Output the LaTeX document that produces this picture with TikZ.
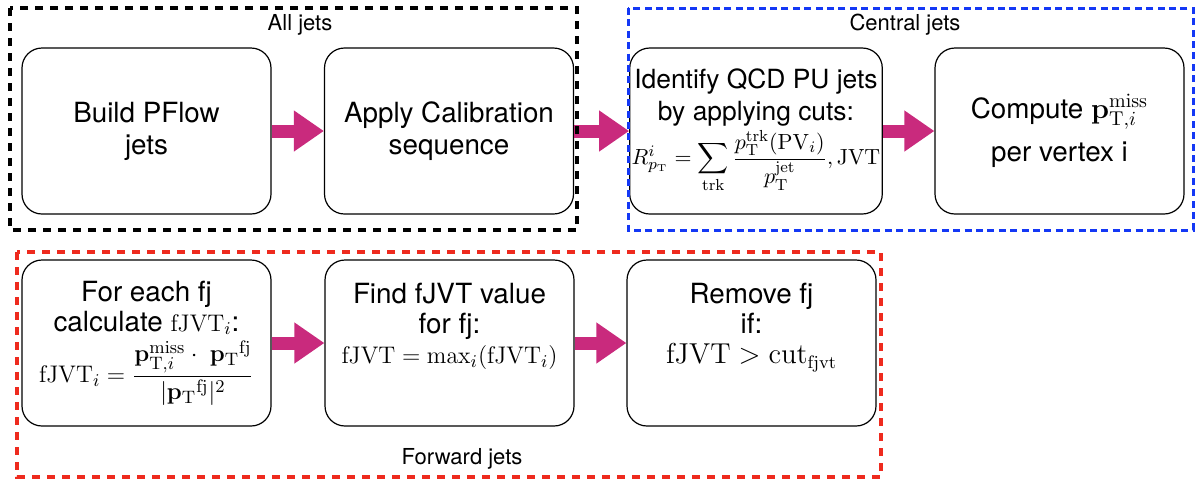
\documentclass[tikz,border=0pt]{standalone}
\usepackage{amsmath}
\usepackage{amssymb}
\usepackage[no-math]{fontspec}
\setmainfont{TeX Gyre Heros}
\usepackage{tikz}
\usetikzlibrary{arrows.meta}
\definecolor{flowpink}{HTML}{C92A7D}
\definecolor{centralblue}{HTML}{1438F5}
\definecolor{forwardred}{HTML}{EE2A1E}

\tikzset{
  stepbox/.style={draw,rounded corners=10pt,line width=0.6pt,minimum width=124.5pt,minimum height=83pt,align=center,inner sep=1pt},
  flowarrow/.style={flowpink,line width=6.5pt,-{Triangle[length=15pt,width=19.5pt]}},
  groupframe/.style={line width=1.8pt,dash pattern=on 4pt off 3.5pt},
  grouplabel/.style={font=\fontsize{11}{13}\selectfont}
}

\begin{document}
\begin{tikzpicture}[x=0.5pt,y=-0.5pt,every node/.style={font=\fontsize{13.9}{15}\selectfont}]
  \useasboundingbox (0,0) rectangle (1198,479);

  \node[stepbox] (build) at (146.5,131) {Build PFlow\\[1pt]jets};
  \node[stepbox] (calib) at (449,131) {Apply Calibration\\[1pt]sequence};
  \node[stepbox,font=\fontsize{13.2}{16}\selectfont] (pujets) at (756,131)
    {Identify QCD PU jets\\by applying cuts:\\[1pt]
     {\fontsize{10.8}{13}\selectfont$R^{i}_{p_{\mathrm{T}}}=\displaystyle\sum_{\mathrm{trk}}\frac{p_{\mathrm{T}}^{\mathrm{trk}}(\mathrm{PV}_i)}{p_{\mathrm{T}}^{\mathrm{jet}}},\mathrm{JVT}$}};
  \node[stepbox] (metvtx) at (1059.5,131)
    {Compute $\mathbf{p}_{\mathrm{T},i}^{\mathrm{miss}}$\\[5pt]per vertex i};

  \node[stepbox] (fjvtcalc) at (146.5,343)
    {For each fj\\calculate {\fontsize{12.5}{15}\selectfont$\mathrm{fJVT}_i$}:\\[2pt]
     {\fontsize{12.5}{15}\selectfont$\mathrm{fJVT}_i=\dfrac{\mathbf{p}_{\mathrm{T},i}^{\mathrm{miss}}\cdot\ \mathbf{p}_{\mathrm{T}}{}^{\mathrm{fj}}}{|\mathbf{p}_{\mathrm{T}}{}^{\mathrm{fj}}|^2}$}};
  \node[stepbox] (fjvtmax) at (449.5,343)
    {Find fJVT value\\for fj:\\
     {\fontsize{12.5}{15}\selectfont$\mathrm{fJVT}=\max_i(\mathrm{fJVT}_i)$}\\\strut};
  \node[stepbox] (fjremove) at (751.5,343)
    {Remove fj\\if:\\
     {\fontsize{13.5}{15}\selectfont$\mathrm{fJVT}>\mathrm{cut}_{\mathrm{fjvt}}$}\\\strut};

  \draw[flowarrow] (build) -- (calib);
  \draw[flowarrow] (calib) -- (pujets);
  \draw[flowarrow] (pujets) -- (metvtx);
  \draw[flowarrow] (fjvtcalc) -- (fjvtmax);
  \draw[flowarrow] (fjvtmax) -- (fjremove);

  \draw[groupframe,black] (10,8) rectangle (577,230);
  \draw[groupframe,centralblue,line width=1.5pt,dash pattern=on 3.5pt off 2.2pt] (628,8) rectangle (1193,230);
  \draw[groupframe,forwardred,line width=1.6pt] (17,252) rectangle (881,477);

  \node[grouplabel] (alljets) at (300,25) {All jets};
  \node[grouplabel] (centraljets) at (905,25) {Central jets};
  \node[grouplabel] (forwardjets) at (462,459) {Forward jets};
\end{tikzpicture}
\end{document}
